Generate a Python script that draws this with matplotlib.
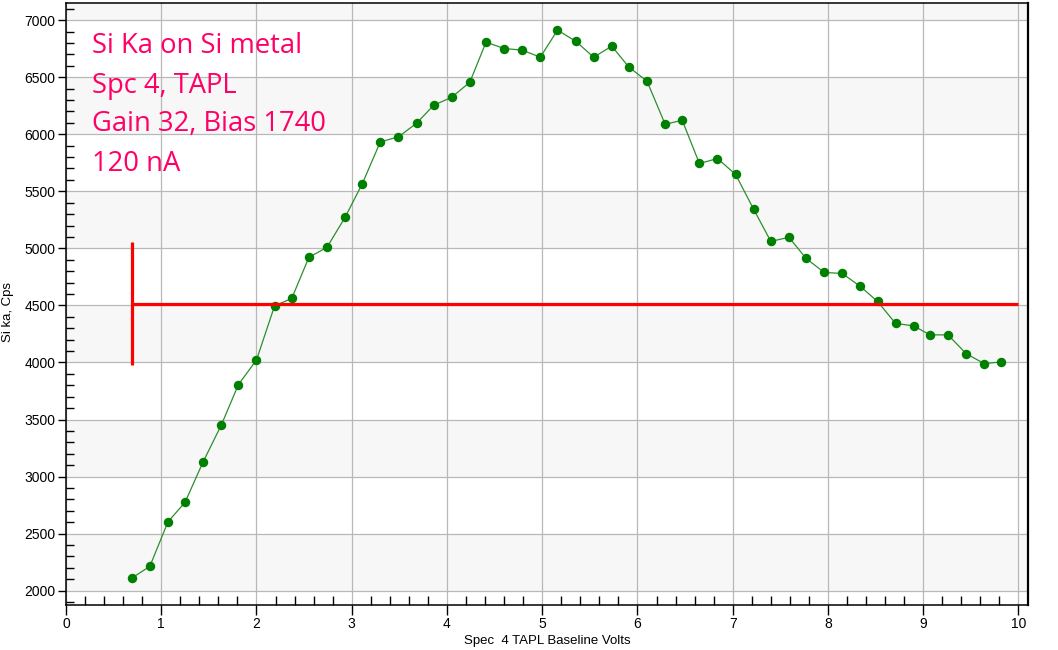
import matplotlib.pyplot as plt
from matplotlib.ticker import MultipleLocator

# Baseline scan, Si Ka on Si metal
volts = [0.69, 0.88, 1.07, 1.25, 1.44, 1.63, 1.81, 2.00, 2.19, 2.37,
         2.55, 2.74, 2.93, 3.11, 3.30, 3.49, 3.68, 3.86, 4.05, 4.24,
         4.41, 4.60, 4.79, 4.98, 5.16, 5.35, 5.54, 5.73, 5.91, 6.10,
         6.29, 6.47, 6.65, 6.84, 7.03, 7.22, 7.40, 7.59, 7.77, 7.96,
         8.15, 8.34, 8.52, 8.71, 8.90, 9.07, 9.26, 9.45, 9.64, 9.82]
cps = [2111, 2213, 2603, 2775, 3130, 3451, 3806, 4022, 4496, 4561,
       4921, 5009, 5272, 5565, 5933, 5977, 6096, 6254, 6324, 6456,
       6807, 6751, 6737, 6675, 6912, 6816, 6675, 6772, 6588, 6465,
       6088, 6122, 5744, 5787, 5648, 5342, 5061, 5097, 4912, 4789,
       4780, 4666, 4535, 4342, 4321, 4242, 4242, 4078, 3990, 4005]

# baseline window marker (red)
window_start = 0.69
window_end = 10.0
window_level = 4510
window_bar = (3975, 5055)

note_lines = ["Si Ka on Si metal", "Spc 4, TAPL", "Gain 32, Bias 1740", "120 nA"]

fig = plt.figure(figsize=(10.58, 6.5), dpi=100)
ax = fig.add_axes([66 / 1058, 1 - 605 / 650, (1028 - 66) / 1058, (605 - 3) / 650])

ax.set_xlim(0, 10.1)
ax.set_ylim(1875, 7150)

# alternating bands
for k in range(2, 8):
    ax.axhspan(k * 1000, k * 1000 + 500, color='#f7f7f7', zorder=0, lw=0)

ax.xaxis.set_major_locator(MultipleLocator(1))
ax.xaxis.set_minor_locator(MultipleLocator(0.2))
ax.yaxis.set_major_locator(MultipleLocator(500))
ax.yaxis.set_minor_locator(MultipleLocator(100))
ax.grid(True, which='major', color='#b8b8b8', lw=0.9, zorder=1)
ax.set_axisbelow(True)

ax.tick_params(axis='x', which='major', direction='out', length=7, width=1, labelsize=10, pad=1.5)
ax.tick_params(axis='x', which='minor', direction='in', length=6.5, width=1)
ax.tick_params(axis='y', which='major', direction='out', length=5.5, width=1, labelsize=10, pad=2)
ax.tick_params(axis='y', which='minor', direction='in', length=5.5, width=1)
for lab in ax.get_xticklabels() + ax.get_yticklabels():
    lab.set_family('Liberation Sans')

for side in ['left', 'bottom', 'top']:
    ax.spines[side].set_linewidth(1.1)
ax.spines['right'].set_linewidth(1.6)

ax.plot(volts, cps, color='#2b8f2b', lw=0.9, marker='o', markersize=5.8,
        markerfacecolor='#008000', markeredgecolor='#008000', zorder=3)

ax.hlines(window_level, window_start, window_end, color='#ff0000', lw=2.3, zorder=4)
ax.vlines(window_start, window_bar[0], window_bar[1], color='#ff0000', lw=2.3, zorder=4)

note_y = [6715, 6364, 6030, 5679]
for txt, y in zip(note_lines, note_y):
    ax.text(0.27, y, txt, color='#ff0066', fontsize=19.7, family='Open Sans',
            va='baseline', ha='left', zorder=5)

ax.set_xlabel('Spec  4 TAPL Baseline Volts', family='Liberation Sans', fontsize=9.5, labelpad=3)
ax.set_ylabel('Si ka, Cps', family='Liberation Sans', fontsize=9.5)
ax.yaxis.set_label_coords(-0.054, 0.487)

fig.savefig('out.png', dpi=100)
